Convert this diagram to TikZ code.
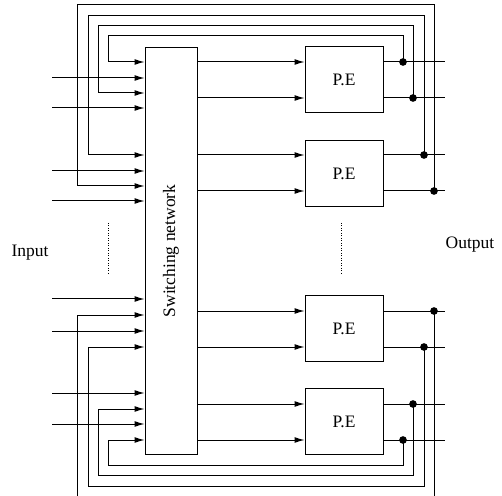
\documentclass[tikz,border=0pt]{standalone}
\usepackage{fontspec}
\setmainfont{Liberation Serif}
\usetikzlibrary{arrows.meta,positioning}

\begin{document}
\begin{tikzpicture}[
		x=0.6pt, y=-0.6pt, line width=0.6pt,
		font=\fontsize{10.5}{12}\selectfont,
		box/.style={draw, inner sep=0pt},
		switchbox/.style={box, minimum width=31.2pt, minimum height=244.8pt},
		pe/.style={box, minimum width=46.8pt, minimum height=39.6pt},
		arrow/.style={-{Latex[length=6pt,width=3.6pt]}},
		junction/.style={circle, fill, inner sep=0pt, minimum size=4.6pt}
	]
		\useasboundingbox (0,0) rectangle (502,496);
		\clip (0,0) rectangle (502,496);
		\node[switchbox] (sw) at (171,251) {};
		\node[rotate=90] (swtext) at (sw) {Switching network};
		\node[pe] (pe1) at (344,80) {P.E};
		\node[pe] (pe2) at (344,173.5) {P.E};
		\node[pe] (pe3) at (344,328.5) {P.E};
		\node[pe] (pe4) at (344,421.5) {P.E};
		\node (input) at (30,253) {Input};
		\node (output) at (470,245) {Output};
		% external inputs
		\foreach \y in {78,108,171,201,299,331,393,424} {
			\coordinate (in\y) at (52,\y);
			\draw[arrow] (in\y) -- (sw.west |- in\y);
		}
		% PE outputs fed back into the switching network
		\foreach \n/\pe/\ry/\dx/\ty/\lx/\ay in {
				1/pe1/62/403/36/108.7/62, 2/pe1/98/413/25.7/98.7/93,
				3/pe2/155/424/15.3/88/155, 4/pe2/191/434/5/77.3/186,
				5/pe3/311/434/498/77.3/315, 6/pe3/347/424/486/88/347,
				7/pe4/404/413/475.5/98.7/409, 8/pe4/440/403/465/108.7/440} {
			\coordinate (out\n) at (445,\ry);
			\node[junction] (j\n) at (\dx,\ry) {};
			\coordinate (c\n) at (\lx,\ty);
			\coordinate (f\n) at (\lx,\ay);
			\draw[arrow] (sw.east |- out\n) -- (\pe.west |- out\n);
			\draw (\pe.east |- out\n) -- (out\n);
			\draw[arrow] (j\n.center) |- (c\n) -- (f\n) -- (sw.west |- f\n);
		}
		\draw[densely dotted, line width=0.5pt] (108,223) -- (108,274);
		\draw[densely dotted, line width=0.5pt] (341,223) -- (341,274);
	\end{tikzpicture}
\end{document}
